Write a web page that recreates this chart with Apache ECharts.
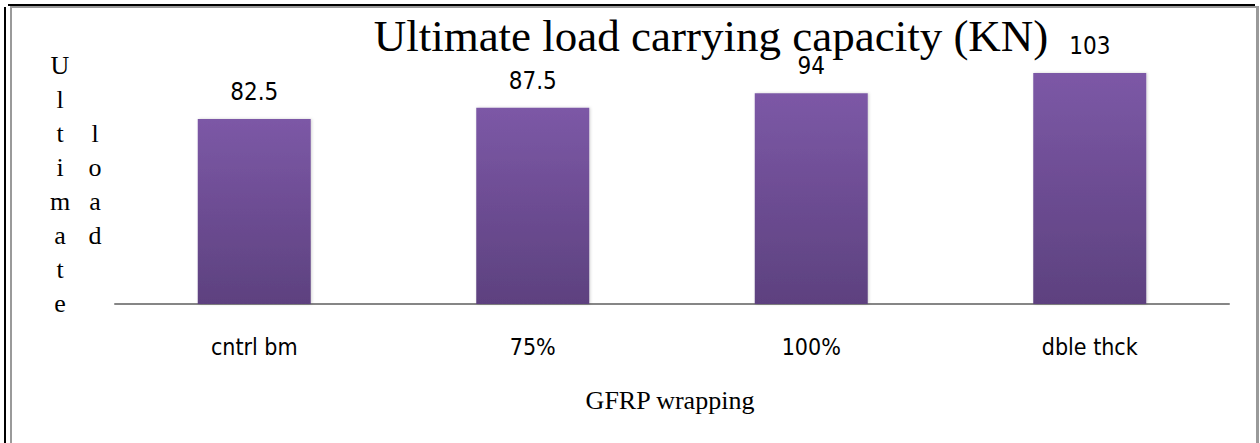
<!DOCTYPE html>
<html>
<head>
<meta charset="utf-8">
<script src="https://cdn.jsdelivr.net/npm/echarts@6/dist/echarts.min.js"></script>
<style>
html,body{margin:0;padding:0;background:#fff;}
#chart{width:1260px;height:443px;}
</style>
</head>
<body>
<div id="chart"></div>
<script>
var categories = ['cntrl bm', '75%', '100%', 'dble thck'];
var values = [82.5, 87.5, 94, 103];
var titleText = 'Ultimate load carrying capacity (KN)';
var xAxisTitle = 'GFRP wrapping';
var yAxisTitleWords = ['Ultimate', 'load'];

var narrow = "'Liberation Sans Narrow', 'Arial Narrow', 'DejaVu Sans Condensed', sans-serif";
var serif = "'Liberation Serif', 'Times New Roman', serif";

var chart = echarts.init(document.getElementById('chart'), null, {renderer: 'svg'});
var option = {
  backgroundColor: '#ffffff',
  animation: false,
  title: {
    text: titleText,
    left: 706,
    top: 8,
    textAlign: 'center',
    textStyle: {fontFamily: serif, fontSize: 45, fontWeight: 'normal', color: '#000'}
  },
  grid: {left: 115, right: 31, top: 35, bottom: 139, containLabel: false},
  xAxis: {
    type: 'category',
    data: categories,
    axisLine: {show: true, lineStyle: {color: '#868686', width: 2}},
    axisTick: {show: false},
    axisLabel: {margin: 31, fontFamily: narrow, fontSize: 23, color: '#000'}
  },
  yAxis: {
    type: 'value',
    min: 0,
    max: 120,
    show: false,
    splitLine: {show: false}
  },
  series: [{
    type: 'bar',
    data: values,
    barWidth: 113,
    itemStyle: {
      color: new echarts.graphic.LinearGradient(0, 0, 0, 1, [
        {offset: 0, color: '#7c58a6'},
        {offset: 1, color: '#5d417f'}
      ]),
      shadowColor: 'rgba(0,0,0,0.18)',
      shadowBlur: 3,
      shadowOffsetX: 1,
      shadowOffsetY: 0
    },
    label: {
      show: true,
      position: 'top',
      distance: 15,
      fontFamily: narrow,
      fontSize: 24,
      color: '#000'
    }
  }],
  graphic: [
    {type: 'line', shape: {x1: 8, y1: 5, x2: 1255, y2: 5}, style: {stroke: '#000', lineWidth: 2}, silent: true},
    {type: 'line', shape: {x1: 5, y1: 7, x2: 5, y2: 443}, style: {stroke: '#000', lineWidth: 2}, silent: true},
    {type: 'line', shape: {x1: 11, y1: 7, x2: 11, y2: 443}, style: {stroke: '#9a9a9a', lineWidth: 2}, silent: true},
    {type: 'line', shape: {x1: 10, y1: 7, x2: 1258, y2: 7}, style: {stroke: '#9a9a9a', lineWidth: 2}, silent: true},
    {type: 'line', shape: {x1: 1257.5, y1: 6, x2: 1257.5, y2: 443}, style: {stroke: '#9a9a9a', lineWidth: 3}, silent: true},
    {
      type: 'text', x: 670, y: 387,
      style: {text: xAxisTitle, font: '26px ' + serif, fill: '#000', textAlign: 'center', textVerticalAlign: 'top'}
    },
    {
      type: 'text', x: 60, y: 48,
      style: {text: yAxisTitleWords[0].split('').join('\n'), font: '26px ' + serif, lineHeight: 34.1, fill: '#000', textAlign: 'center', textVerticalAlign: 'top'}
    },
    {
      type: 'text', x: 95, y: 116,
      style: {text: yAxisTitleWords[1].split('').join('\n'), font: '26px ' + serif, lineHeight: 34.1, fill: '#000', textAlign: 'center', textVerticalAlign: 'top'}
    }
  ]
};
chart.setOption(option);
</script>
</body>
</html>
